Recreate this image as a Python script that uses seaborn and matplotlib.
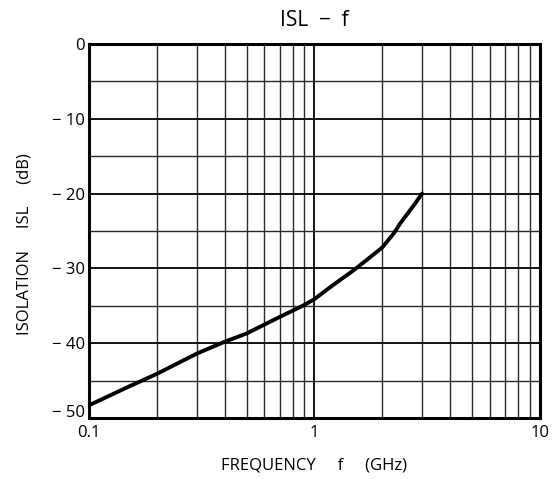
import matplotlib
matplotlib.use("Agg")
import matplotlib.pyplot as plt
import matplotlib.transforms as mtransforms
import seaborn as sns
import pandas as pd
from matplotlib.ticker import FixedLocator, FixedFormatter, NullFormatter

# Data
freq_ghz = [0.1, 0.15, 0.2, 0.3, 0.4, 0.5, 0.7, 0.9, 1.0, 1.2, 1.5, 1.75, 2.0, 2.25, 2.4, 2.6, 2.8, 3.0]
isl_db = [-48.3, -45.8, -44.1, -41.4, -39.8, -38.7, -36.5, -34.9, -34.1, -32.3, -30.2, -28.6,
          -27.2, -25.3, -24.0, -22.6, -21.3, -20.0]
x_ticks = [0.1, 1, 10]
x_tick_labels = ["0.1", "1", "10"]
y_ticks = [0, -10, -20, -30, -40, -50]
y_tick_labels = ["0", "\u2212 10", "\u2212 20", "\u2212 30", "\u2212 40", "\u2212 50"]

sns.set_style("white")
plt.rcParams["font.family"] = ["Open Sans", "DejaVu Sans"]
plt.rcParams["text.color"] = "black"
plt.rcParams["axes.labelcolor"] = "black"

df = pd.DataFrame({"f": freq_ghz, "isl": isl_db})

fig = plt.figure(figsize=(5.58, 4.79), dpi=100)
ax = fig.add_axes([0.1595, 0.1273, 0.808, 0.7808])

ax.set_xscale("log")
ax.set_xlim(0.1, 10)
ax.set_ylim(-50, 0)

# grid
minor_x = [m * d for d in (0.1, 1) for m in range(2, 10)]
ax.xaxis.set_major_locator(FixedLocator(x_ticks))
ax.xaxis.set_major_formatter(FixedFormatter(x_tick_labels))
ax.xaxis.set_minor_locator(FixedLocator(minor_x))
ax.xaxis.set_minor_formatter(NullFormatter())
ax.yaxis.set_major_locator(FixedLocator(y_ticks))
ax.yaxis.set_major_formatter(FixedFormatter(y_tick_labels))
ax.yaxis.set_minor_locator(FixedLocator([-5, -15, -25, -35, -45]))

ax.grid(which="major", color="black", linewidth=1.3)
ax.grid(which="minor", color="#2a2a2a", linewidth=1.0)
ax.set_axisbelow(True)

sns.lineplot(data=df, x="f", y="isl", ax=ax, color="black", linewidth=2.8, zorder=5)

for s in ax.spines.values():
    s.set_linewidth(2.2)
    s.set_color("black")

ax.tick_params(which="both", length=0, labelsize=12, colors="black")
ax.tick_params(axis="x", pad=5)
ax.tick_params(axis="y", pad=3)

# raise the bottom y label (-50) above the corner like the reference
fig.canvas.draw()
ylabels = ax.get_yticklabels()
shift_up = mtransforms.ScaledTranslation(0, 5 / 72, fig.dpi_scale_trans)
ylabels[-1].set_transform(ylabels[-1].get_transform() + shift_up)

ax.set_title("ISL  \u2212  f", fontsize=15, pad=13)
ax.set_xlabel("FREQUENCY     f     (GHz)", fontsize=12, labelpad=12)
ax.set_ylabel("ISOLATION     ISL     (dB)", fontsize=12, labelpad=12)
ax.yaxis.set_label_coords(-0.125, 0.465)

fig.savefig("out.png", dpi=100, facecolor="white")
